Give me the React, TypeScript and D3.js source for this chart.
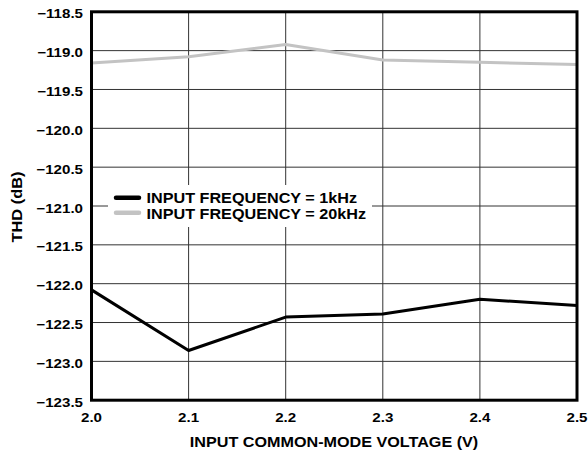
import React from "react";
import * as d3 from "d3";

const xTicks = [2.0, 2.1, 2.2, 2.3, 2.4, 2.5];
const yTicks = [-118.5, -119.0, -119.5, -120.0, -120.5, -121.0, -121.5, -122.0, -122.5, -123.0, -123.5];
const voltage = [2.0, 2.1, 2.2, 2.3, 2.4, 2.5];
const thd1k = [-122.08, -122.86, -122.43, -122.39, -122.2, -122.28];
const thd20k = [-119.16, -119.08, -118.92, -119.12, -119.15, -119.18];
const legendLabels = ["INPUT FREQUENCY = 1kHz", "INPUT FREQUENCY = 20kHz"];

const W = 588, H = 454;
const L = 91.5, R = 577, T = 11.8, B = 400.2;
const font = "Arial, 'Liberation Sans', sans-serif";
const minus = (v: number) => (v < 0 ? "\u2212" + Math.abs(v).toFixed(1) : v.toFixed(1));

type STProps = {
  x: number;
  y: number;
  size: number;
  sx?: number;
  anchor?: "start" | "middle" | "end";
  rotate?: number;
  children: React.ReactNode;
};

function SText({ x, y, size, sx = 1.18, anchor = "start", rotate = 0, children }: STProps) {
  return (
    <text
      transform={`translate(${x},${y}) rotate(${rotate}) scale(${sx},1)`}
      textAnchor={anchor}
      fontFamily={font}
      fontWeight="bold"
      fontSize={size}
      fill="#000"
    >
      {children}
    </text>
  );
}

export default function App() {
  const x = d3.scaleLinear().domain([2.0, 2.5]).range([L, R]);
  const y = d3.scaleLinear().domain([-123.5, -118.5]).range([B, T]);
  const line = d3.line<number>().x((_, i) => x(voltage[i])).y((d) => y(d));
  const series = [
    { data: thd20k, color: "#c3c3c3" },
    { data: thd1k, color: "#000000" },
  ];
  return (
    <svg width={W} height={H} style={{ position: "absolute", left: 0, top: 0 }}>
      <rect x={0} y={0} width={W} height={H} fill="#fff" />
      {xTicks.slice(1, -1).map((t) => (
        <line key={"gx" + t} x1={x(t)} x2={x(t)} y1={T} y2={B} stroke="#333" strokeWidth={1} />
      ))}
      {yTicks.slice(1, -1).map((t) => (
        <line key={"gy" + t} x1={L} x2={R} y1={y(t)} y2={y(t)} stroke="#333" strokeWidth={1} />
      ))}
      <rect x={108} y={185} width={264} height={42} fill="#fff" />
      {series.map((s, i) => (
        <path key={i} d={line(s.data) || ""} fill="none" stroke={s.color} strokeWidth={3} strokeLinejoin="round" />
      ))}
      <rect x={L} y={T} width={R - L} height={B - T} fill="none" stroke="#000" strokeWidth={3} />
      {yTicks.map((t) => (
        <SText key={"ty" + t} x={83} y={y(t) + 6.5} size={12.6} sx={1.2} anchor="end">
          {minus(t)}
        </SText>
      ))}
      {xTicks.map((t) => (
        <SText key={"tx" + t} x={x(t)} y={421.5} size={12.6} sx={1.2} anchor="middle">
          {t.toFixed(1)}
        </SText>
      ))}
      <SText x={334} y={447} size={14} sx={1.155} anchor="middle">
        INPUT COMMON-MODE VOLTAGE (V)
      </SText>
      <SText x={21.5} y={207} size={14} sx={1.17} anchor="middle" rotate={-90}>
        THD (dB)
      </SText>
      {legendLabels.map((lab, i) => (
        <g key={lab}>
          <line
            x1={116}
            x2={139}
            y1={197.7 + i * 15}
            y2={197.7 + i * 15}
            stroke={i === 0 ? "#000" : "#c3c3c3"}
            strokeWidth={4.5}
            strokeLinecap="round"
          />
          <SText x={146.5} y={203.3 + i * 15.5} size={14.2} sx={1.14}>
            {lab}
          </SText>
        </g>
      ))}
    </svg>
  );
}
